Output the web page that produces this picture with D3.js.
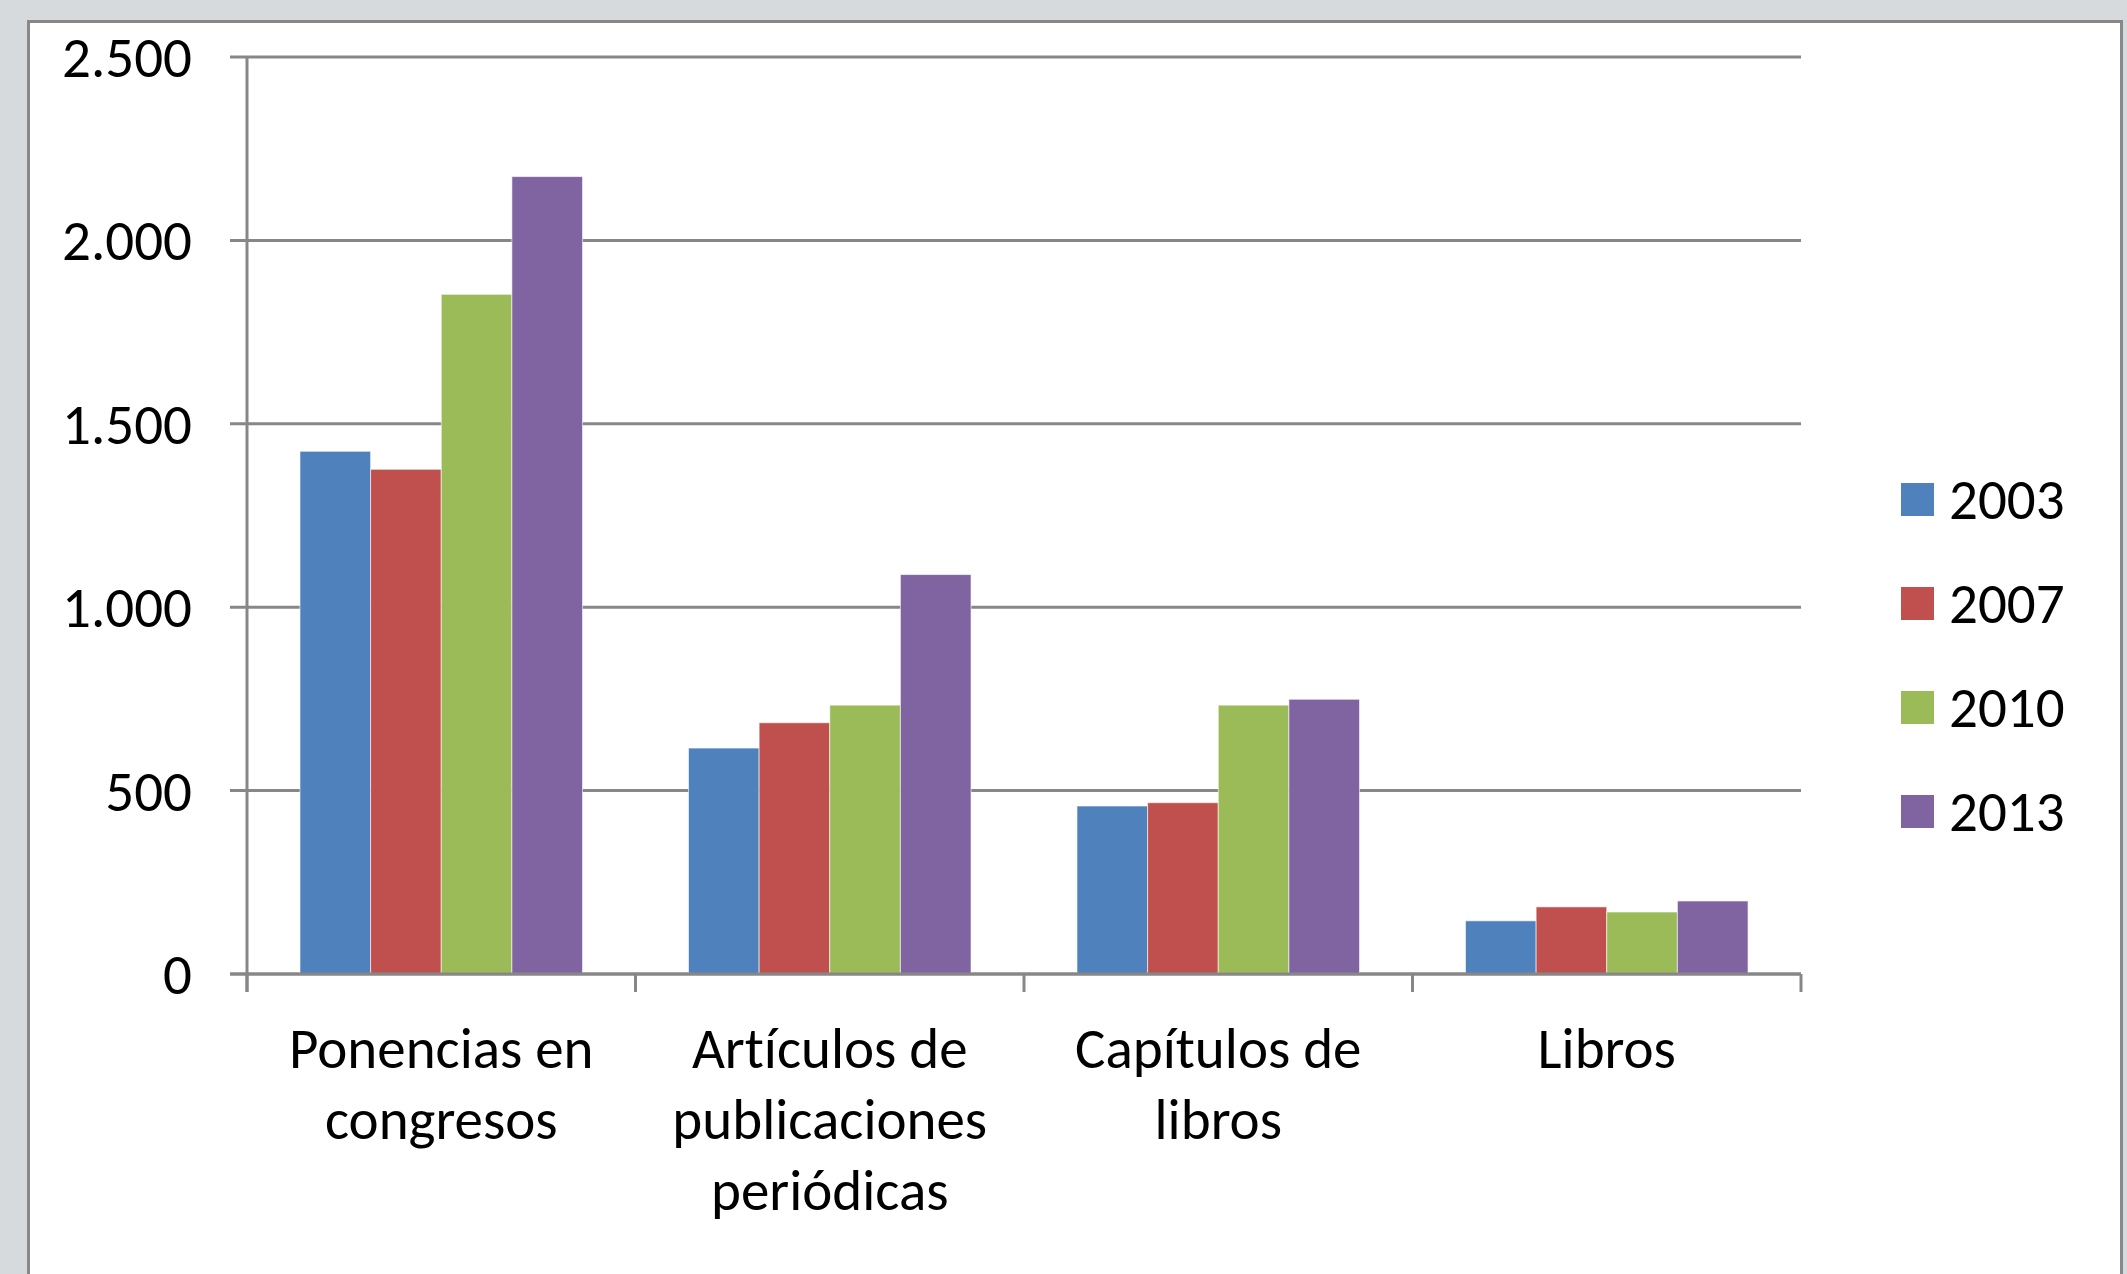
<!DOCTYPE html>
<html>
<head>
<meta charset="utf-8">
<script src="https://cdn.jsdelivr.net/npm/d3@7"></script>
<style>
  html, body { margin: 0; padding: 0; background: #d6dadd; }
  svg text { font-family: Carlito, Lato, "Open Sans", sans-serif; fill: #000; font-variant-ligatures: none; }
</style>
</head>
<body>
<svg id="chart" width="2127" height="1274"></svg>
<script>
const categories = [
  ["Ponencias en", "congresos"],
  ["Artículos de", "publicaciones", "periódicas"],
  ["Capítulos de", "libros"],
  ["Libros"]
];
const years = ["2003", "2007", "2010", "2013"];
const values_2003 = [1425, 616, 458, 145];
const values_2007 = [1376, 685, 467, 183];
const values_2010 = [1853, 733, 733, 169];
const values_2013 = [2174, 1089, 749, 199];
const y_ticks = [0, 500, 1000, 1500, 2000, 2500];
const colors = ["#4f81bd", "#c0504d", "#9bbb59", "#8064a2"];

const series = [values_2003, values_2007, values_2010, values_2013];

const svg = d3.select("#chart");
const FONT_SIZE = 57;

// Chart box
svg.append("rect")
  .attr("x", 28.5).attr("y", 21.5)
  .attr("width", 2093).attr("height", 1300)
  .style("fill", "#fff")
  .style("stroke", "#888")
  .style("stroke-width", 3);

const plot = { left: 247, right: 1801, top: 57, bottom: 974 };

// Excel gap width 150%: group = 4 bars, gap = 1.5 bars
let x = d3.scaleBand()
  .domain(d3.range(categories.length))
  .range([plot.left, plot.right]);
let step = x.step();
let bar_w = step / 5.5;

let y = d3.scaleLinear().domain([0, 2500]).range([plot.bottom, plot.top]);

// Gridlines + left ticks
svg.append("g")
  .selectAll("line")
  .data(y_ticks)
  .join("line")
  .attr("x1", plot.left - 17)
  .attr("x2", plot.right)
  .attr("y1", (d) => y(d))
  .attr("y2", (d) => y(d))
  .style("stroke", "#878787")
  .style("stroke-width", 3);

// Y axis line
svg.append("line")
  .attr("x1", plot.left).attr("x2", plot.left)
  .attr("y1", plot.top).attr("y2", plot.bottom + 18)
  .style("stroke", "#878787")
  .style("stroke-width", 3);

// Y tick labels
svg.append("g")
  .selectAll("text")
  .data(y_ticks)
  .join("text")
  .attr("x", 192)
  .attr("y", (d) => y(d))
  .attr("dy", "0.35em")
  .attr("text-anchor", "end")
  .style("font-size", FONT_SIZE + "px")
  .text((d) => d3.format(",")(d).replace(/,/g, "."));

// Bars
categories.forEach((cat, i) => {
  let group_x = x(i) + bar_w * 0.75;
  series.forEach((vals, j) => {
    svg.append("rect")
      .attr("x", group_x + j * bar_w)
      .attr("y", y(vals[i]))
      .attr("width", bar_w)
      .attr("height", y(0) - y(vals[i]))
      .style("fill", colors[j])
      .style("stroke", "rgba(255,255,255,0.6)")
      .style("stroke-width", 1);
  });
});

// X axis line + category ticks
svg.append("line")
  .attr("x1", plot.left - 17).attr("x2", plot.right)
  .attr("y1", plot.bottom).attr("y2", plot.bottom)
  .style("stroke", "#878787")
  .style("stroke-width", 3);
svg.append("g")
  .selectAll("line")
  .data(d3.range(categories.length + 1))
  .join("line")
  .attr("x1", (d) => plot.left + d * step)
  .attr("x2", (d) => plot.left + d * step)
  .attr("y1", plot.bottom)
  .attr("y2", plot.bottom + 18)
  .style("stroke", "#878787")
  .style("stroke-width", 3);

// Category labels
categories.forEach((lines, i) => {
  let cx = x(i) + step / 2;
  let t = svg.append("text")
    .attr("text-anchor", "middle")
    .style("font-size", FONT_SIZE + "px");
  lines.forEach((line, k) => {
    t.append("tspan")
      .attr("x", cx)
      .attr("y", 1048 + k * 71)
      .attr("dy", "0.35em")
      .text(line);
  });
});

// Legend
let legend = svg.append("g");
years.forEach((yr, j) => {
  let cy = 499 + j * 104;
  legend.append("rect")
    .attr("x", 1901).attr("y", cy - 16)
    .attr("width", 33).attr("height", 33)
    .style("fill", colors[j]);
  legend.append("text")
    .attr("x", 1949).attr("y", cy)
    .attr("dy", "0.35em")
    .style("font-size", FONT_SIZE + "px")
    .text(yr);
});
</script>
</body>
</html>
